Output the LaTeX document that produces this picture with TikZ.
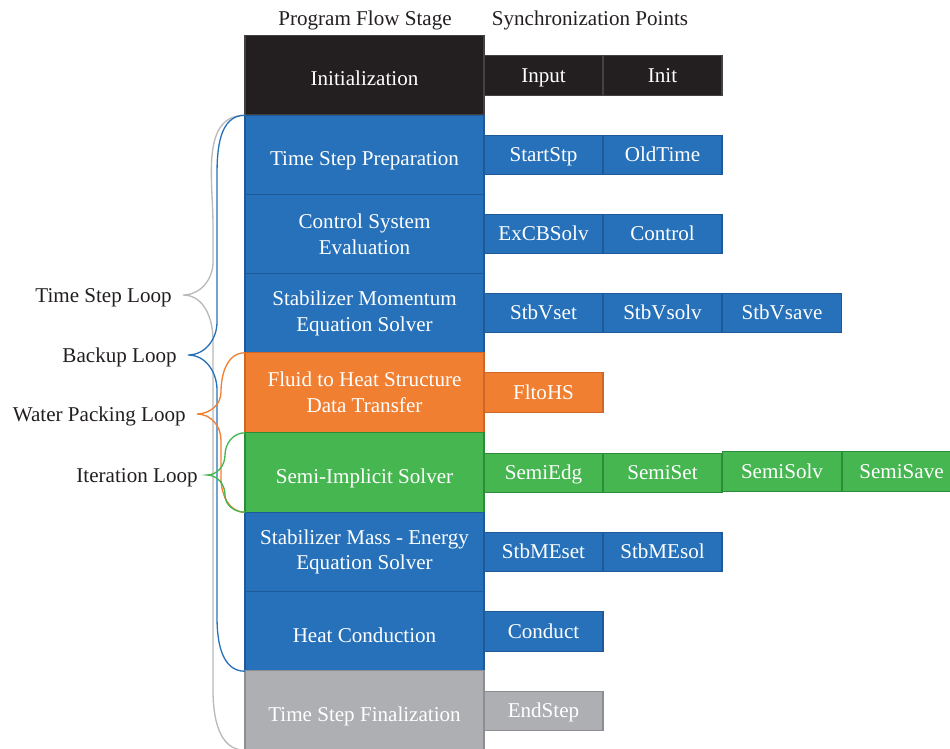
\documentclass[tikz,border=0pt]{standalone}
\usepackage{fontspec}
\setmainfont{Liberation Serif}
\usetikzlibrary{positioning}

\definecolor{stageblue}{RGB}{38,113,185}
\definecolor{edgeblue}{RGB}{30,90,152}
\definecolor{stageorange}{RGB}{240,127,50}
\definecolor{edgeorange}{RGB}{205,102,38}
\definecolor{stagegreen}{RGB}{70,182,80}
\definecolor{edgegreen}{RGB}{45,140,58}
\definecolor{stagegrey}{RGB}{173,175,178}
\definecolor{edgegrey}{RGB}{140,142,146}
\definecolor{stageblack}{RGB}{35,31,32}
\definecolor{bracegrey}{RGB}{185,185,185}
\definecolor{labeltext}{RGB}{35,31,32}

\tikzset{
  stage/.style={draw,line width=0.6pt,inner sep=0pt,outer sep=0pt,minimum width=4.78cm,minimum height=1.59cm,align=center,text=white,font=\fontsize{12}{14.7}\selectfont},
  oneline/.style={text height=13pt,text depth=1pt},
  sync/.style={draw,line width=0.6pt,inner sep=0pt,outer sep=0pt,minimum width=2.38cm,minimum height=0.79cm,text height=8.6pt,text depth=1pt,text=white,font=\fontsize{12}{14.7}\selectfont},
  blackbox/.style={fill=stageblack,draw=stageblack!85!white},
  bluebox/.style={fill=stageblue,draw=edgeblue},
  orangebox/.style={fill=stageorange,draw=edgeorange},
  greenbox/.style={fill=stagegreen,draw=edgegreen},
  greybox/.style={fill=stagegrey,draw=edgegrey},
  header/.style={inner sep=0pt,text height=8pt,text depth=0pt,text=labeltext,font=\fontsize{12}{14.7}\selectfont},
  looplabel/.style={inner sep=0pt,text height=8pt,text depth=0pt,text=labeltext,font=\fontsize{12}{14.7}\selectfont},
  loopbrace/.style={line width=0.75pt}
}

\begin{document}
\begin{tikzpicture}[x=0.02cm,y=0.02cm]
\useasboundingbox (0,0) rectangle (950,-748);

\node[header](flowhead) at (365,-18){Program Flow Stage};
\node[header](synchead) at (590,-18){Synchronization Points};

\node[stage,oneline,blackbox](init) at (364.5,-75){Initialization};
\node[stage,oneline,bluebox](prep) at (364.5,-155){Time Step Preparation};
\node[stage,bluebox](ctrl) at (364.5,-234.5){Control System\\Evaluation};
\node[stage,bluebox](stbm) at (364.5,-313.5){Stabilizer Momentum\\Equation Solver};
\node[stage,orangebox](fluid) at (364.5,-392.5){Fluid to Heat Structure\\Data Transfer};
\node[stage,oneline,greenbox](semi) at (364.5,-472.5){Semi-Implicit Solver};
\node[stage,bluebox](stbme) at (364.5,-552){Stabilizer Mass - Energy\\Equation Solver};
\node[stage,oneline,bluebox](heat) at (364.5,-631.5){Heat Conduction};
\node[stage,oneline,greybox](final) at (364.5,-710.5){Time Step Finalization};

\node[sync,blackbox](input) at (543.5,-75.5){Input};
\node[sync,blackbox](initpt) at (662.5,-75.5){Init};
\node[sync,bluebox](startstp) at (543.5,-155){StartStp};
\node[sync,bluebox](oldtime) at (662.5,-155){OldTime};
\node[sync,bluebox](excbsolv) at (543.5,-234){ExCBSolv};
\node[sync,bluebox](control) at (662.5,-234){Control};
\node[sync,bluebox](stbvset) at (543.5,-313){StbVset};
\node[sync,bluebox](stbvsolv) at (662.5,-313){StbVsolv};
\node[sync,bluebox](stbvsave) at (782,-313){StbVsave};
\node[sync,orangebox](fltohs) at (543.5,-392.5){FltoHS};
\node[sync,greenbox](semiedg) at (543.5,-473){SemiEdg};
\node[sync,greenbox](semiset) at (662.5,-473){SemiSet};
\node[sync,greenbox](semisolv) at (782,-471.5){SemiSolv};
\node[sync,greenbox](semisave) at (901.5,-471.5){SemiSave};
\node[sync,bluebox](stbmeset) at (543.5,-552){StbMEset};
\node[sync,bluebox](stbmesol) at (662.5,-552){StbMEsol};
\node[sync,bluebox](conduct) at (543.5,-631.5){Conduct};
\node[sync,greybox](endstep) at (543.5,-711){EndStep};

\coordinate(tsTip) at (183,-295);
\coordinate(buTip) at (188,-355);
\coordinate(wpTip) at (197,-414);
\coordinate(itTip) at (207,-475);

\node[looplabel,left=0.22cm of tsTip](tsloop){Time Step Loop};
\node[looplabel,left=0.22cm of buTip](buloop){Backup Loop};
\node[looplabel,left=0.22cm of wpTip](wploop){Water Packing Loop};
\node[looplabel,left=0.18cm of itTip](itloop){Iteration Loop};

\draw[loopbrace,bracegrey] (prep.north west) to[out=180,in=90] (213,-225) -- (213,-262)
  to[out=-90,in=0] (tsTip) to[out=0,in=90] (213,-340) -- (213,-690) to[out=-90,in=180] (final.south west);
\draw[loopbrace,stageblue] (prep.north west) to[out=180,in=90] (217,-175) -- (217,-322)
  to[out=-90,in=0] (buTip) to[out=0,in=90] (217,-390) -- (217,-617) to[out=-90,in=180] (heat.south west);
\draw[loopbrace,stageorange] (fluid.north west) to[out=180,in=90] (221,-392)
  to[out=-90,in=0] (wpTip) to[out=0,in=90] (221,-440) -- (221,-478) to[out=-90,in=180] (semi.south west);
\draw[loopbrace,stagegreen] (semi.north west) to[out=180,in=90] (225,-455)
  to[out=-90,in=0] (itTip) to[out=0,in=90] (225,-495) to[out=-90,in=180] (semi.south west);
\end{tikzpicture}
\end{document}
